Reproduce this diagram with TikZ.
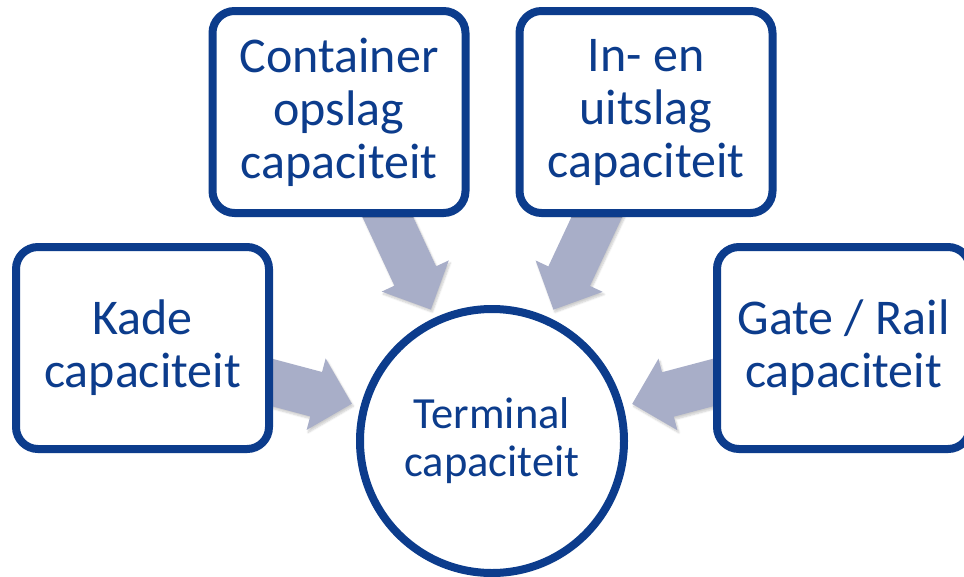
\documentclass[tikz,border=0pt]{standalone}
\usepackage{fontspec}
\setmainfont{Carlito}
\usetikzlibrary{calc,shadows.blur}
\pgfdeclarelayer{background}
\pgfsetlayers{background,main}
\definecolor{navy}{RGB}{12,60,140}
\definecolor{arrowc}{RGB}{168,174,200}
\tikzset{
  softshadow/.style={blur shadow={shadow xshift=1.5pt, shadow yshift=-2.5pt, shadow opacity=20, shadow blur steps=6}},
  boxnode/.style={draw=navy, line width=8pt, fill=white, rounded corners=22pt,
    minimum width=253pt, minimum height=202pt, text=navy, align=center,
    font=\fontsize{50}{53}\selectfont, inner sep=0pt, softshadow},
  hubnode/.style={circle, draw=navy, line width=8pt, fill=white, minimum size=264pt,
    text=navy, align=center, font=\fontsize{44.5}{48}\selectfont, inner sep=0pt, softshadow},
  arrowshape/.style={fill=arrowc, softshadow}
}
\newcommand\blockarrow[2]{%
  \path ($(#2.center)!145pt!(#1.center)$) coordinate (P)
        ($(P)!37pt!(#1.center)$) coordinate (H)
        ($(P)!170pt!(#1.center)$) coordinate (Q);
  \fill[arrowshape] (P) -- ($(H)!37pt!90:(P)$) -- ($(H)!23pt!90:(P)$)
     -- ($(Q)!23pt!90:(H)$) -- ($(Q)!23pt!-90:(H)$)
     -- ($(H)!23pt!-90:(P)$) -- ($(H)!37pt!-90:(P)$) -- cycle;
}
\begin{document}
\begin{tikzpicture}[x=1pt,y=-1pt]
  \useasboundingbox (0,0) rectangle (964,576);
  \clip (0,0) rectangle (964,576);
  \node[hubnode] (term) at (492,441) {Terminal\\capaciteit};
  \node[boxnode] (kade) at (142.5,348) {Kade\\capaciteit};
  \node[boxnode] (cont) at (339,112) {Container\\opslag\\capaciteit};
  \node[boxnode] (inuit) at (646,112) {In- en\\uitslag\\capaciteit};
  \node[boxnode] (gate) at (843.5,348) {Gate / Rail\\capaciteit};
  \begin{pgfonlayer}{background}
    \foreach \b in {kade,cont,inuit,gate} { \blockarrow{\b}{term} }
  \end{pgfonlayer}
\end{tikzpicture}
\end{document}
